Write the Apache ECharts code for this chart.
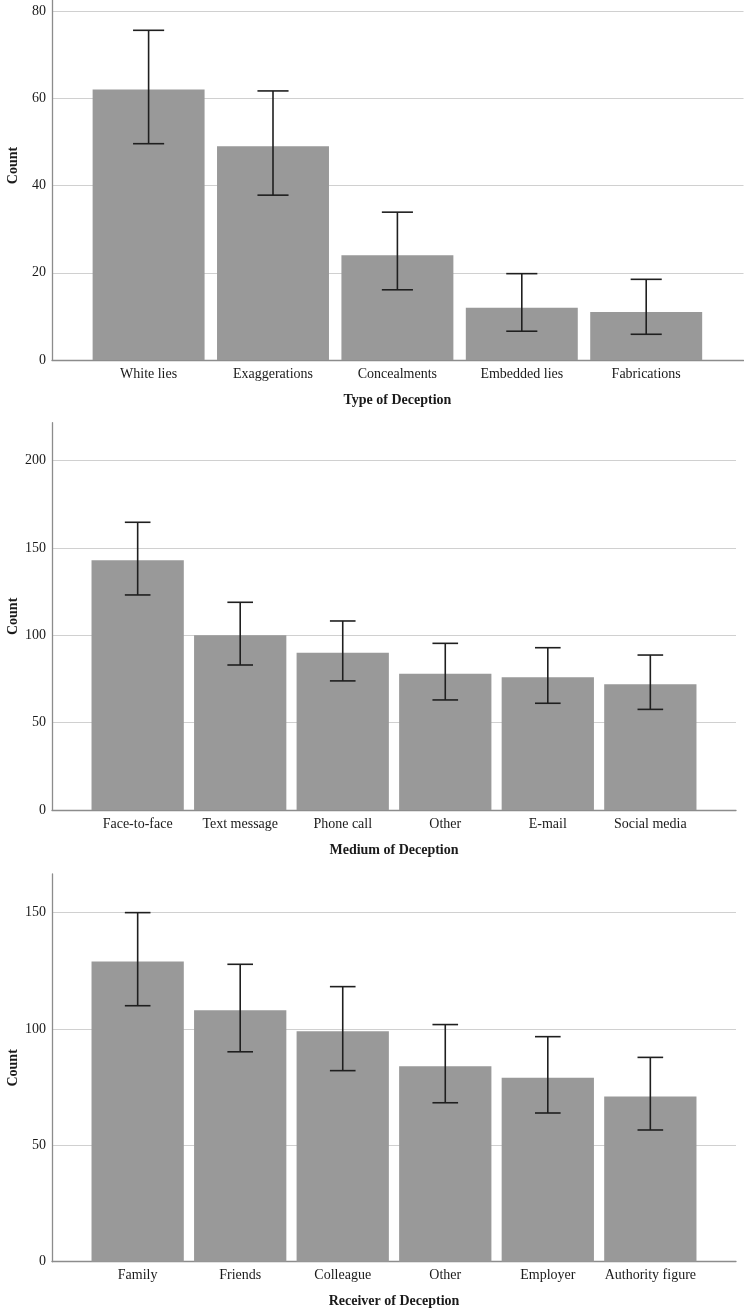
<!DOCTYPE html>
<html>
<head>
<meta charset="utf-8">
<script src="https://cdn.jsdelivr.net/npm/echarts@6/dist/echarts.min.js"></script>
<style>
html,body{margin:0;padding:0;background:#fff;}
#c{width:744px;height:1310px;}
</style>
</head>
<body>
<div id="c"></div>
<script>
// ---- Data ----
const typeCats = ['White lies', 'Exaggerations', 'Concealments', 'Embedded lies', 'Fabrications'];
const typeCounts = [62, 49, 24, 12, 11];
const typeLow = [49.6, 37.8, 16.1, 6.6, 5.9];
const typeHigh = [75.6, 61.7, 33.9, 19.8, 18.5];

const mediumCats = ['Face-to-face', 'Text message', 'Phone call', 'Other', 'E-mail', 'Social media'];
const mediumCounts = [143, 100, 90, 78, 76, 72];
const mediumLow = [123.1, 83.0, 73.9, 63.0, 61.1, 57.6];
const mediumHigh = [164.7, 118.9, 108.2, 95.4, 92.9, 88.7];

const receiverCats = ['Family', 'Friends', 'Colleague', 'Other', 'Employer', 'Authority figure'];
const receiverCounts = [129, 108, 99, 84, 79, 71];
const receiverLow = [110.0, 90.2, 82.1, 68.3, 63.9, 56.6];
const receiverHigh = [150.0, 127.8, 118.2, 101.9, 96.7, 87.8];

const axisTitles = ['Type of Deception', 'Medium of Deception', 'Receiver of Deception'];
const yTitle = 'Count';
const yIntervals = [20, 50, 50];
const yMaxes = [89.2, 221.7, 166.6];

// ---- Layout ----
const FONT = 'Liberation Serif, Times New Roman, serif';
const panels = [
  {cats: typeCats, counts: typeCounts, low: typeLow, high: typeHigh,
   top: -29, bottom: 360, axisRight: 743.5, bandL: 86.4, bandR: 708.4},
  {cats: mediumCats, counts: mediumCounts, low: mediumLow, high: mediumHigh,
   top: 422.7, bottom: 810, axisRight: 736, bandL: 86.4, bandR: 701.6},
  {cats: receiverCats, counts: receiverCounts, low: receiverLow, high: receiverHigh,
   top: 874, bottom: 1261.7, axisRight: 736, bandL: 86.4, bandR: 701.6}
];

const grid = [], xAxis = [], yAxis = [], series = [];
panels.forEach((p, k) => {
  const h = p.bottom - p.top;
  // frame grid (axes lines + gridlines)
  grid.push({left: 52, top: p.top, width: p.axisRight - 52, height: h, outerBoundsMode: 'none', containLabel: false});
  // band grid (bars)
  grid.push({left: p.bandL, top: p.top, width: p.bandR - p.bandL, height: h, outerBoundsMode: 'none', containLabel: false});
  const gA = 2 * k, gB = 2 * k + 1;
  xAxis.push({gridIndex: gA, type: 'value', min: 0, max: 1,
    axisLine: {show: true, onZero: false, lineStyle: {color: '#8c8c8c', width: 1.3}},
    axisTick: {show: false}, axisLabel: {show: false}, splitLine: {show: false}});
  xAxis.push({gridIndex: gB, type: 'category', data: p.cats,
    axisLine: {show: false}, axisTick: {show: false},
    axisLabel: {show: true, interval: 0, margin: 7, color: '#1a1a1a', fontFamily: FONT, fontSize: 14},
    name: axisTitles[k], nameLocation: 'middle', nameGap: 33, nameMoveOverlap: false,
    nameTextStyle: {color: '#1a1a1a', fontFamily: FONT, fontSize: 14, fontWeight: 'bold'}});
  yAxis.push({gridIndex: gA, type: 'value', min: 0, max: yMaxes[k], interval: yIntervals[k],
    axisLine: {show: true, lineStyle: {color: '#8c8c8c', width: 1.3}},
    axisTick: {show: false},
    axisLabel: {show: true, margin: 6, showMaxLabel: false, color: '#1a1a1a', fontFamily: FONT, fontSize: 14},
    splitLine: {show: true, showMinLine: false, showMaxLine: false, lineStyle: {color: '#d0d0d0', width: 1.2}},
    name: yTitle, nameLocation: 'middle', nameGap: 32, nameRotate: 90, nameMoveOverlap: false,
    nameTextStyle: {color: '#1a1a1a', fontFamily: FONT, fontSize: 14, fontWeight: 'bold'}});
  yAxis.push({gridIndex: gB, type: 'value', min: 0, max: yMaxes[k], interval: yIntervals[k],
    show: false, splitLine: {show: false}});
  series.push({type: 'bar', xAxisIndex: 2 * k + 1, yAxisIndex: 2 * k + 1,
    data: p.counts, barWidth: '90%', itemStyle: {color: '#999999'}, z: 2, silent: true, animation: false});
  series.push({type: 'custom', xAxisIndex: 2 * k + 1, yAxisIndex: 2 * k + 1, z: 5, silent: true, animation: false,
    data: p.cats.map((c, i) => [i, p.low[i], p.high[i]]),
    encode: {x: 0, y: [1, 2]},
    renderItem: function (params, api) {
      const x = api.value(0);
      const lo = api.coord([x, api.value(1)]);
      const hi = api.coord([x, api.value(2)]);
      const half = api.size([1, 0])[0] * 0.125;
      const st = {stroke: '#1f1f1f', lineWidth: 1.6};
      return {type: 'group', children: [
        {type: 'line', shape: {x1: lo[0], y1: lo[1], x2: hi[0], y2: hi[1]}, style: st},
        {type: 'line', shape: {x1: hi[0] - half, y1: hi[1], x2: hi[0] + half, y2: hi[1]}, style: st},
        {type: 'line', shape: {x1: lo[0] - half, y1: lo[1], x2: lo[0] + half, y2: lo[1]}, style: st}
      ]};
    }});
});

const chart = echarts.init(document.getElementById('c'), null, {renderer: 'canvas'});
chart.setOption({
  backgroundColor: '#ffffff',
  animation: false,
  grid: grid, xAxis: xAxis, yAxis: yAxis, series: series
});
</script>
</body>
</html>
